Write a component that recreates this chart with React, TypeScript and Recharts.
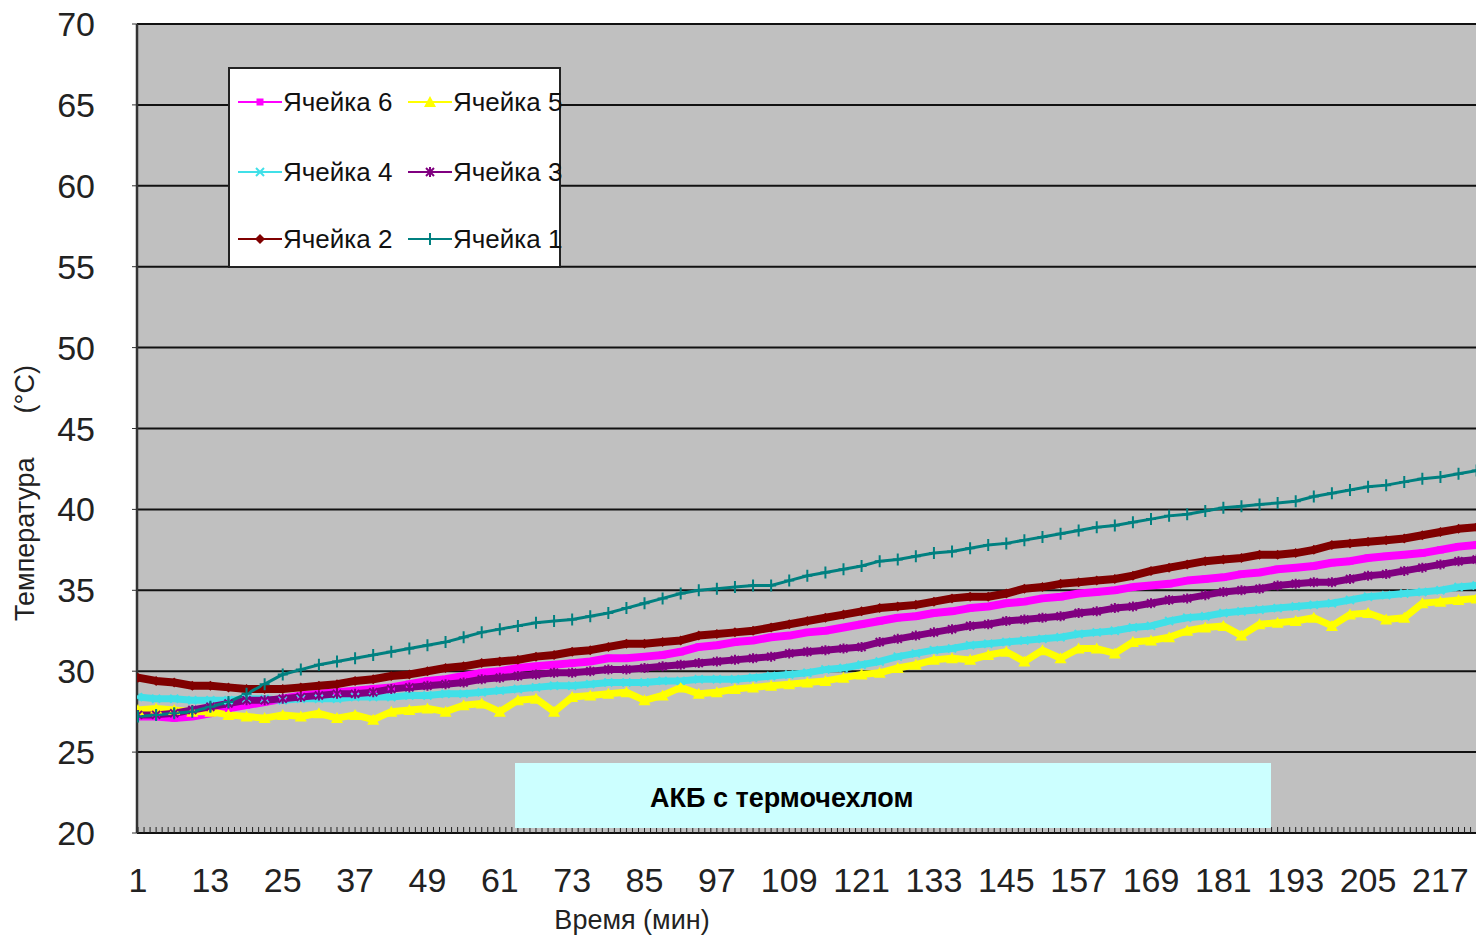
import React from "react";
import { LineChart, Line, XAxis, YAxis, CartesianGrid, Legend } from "recharts";

// minutes (every 3rd reading)
const minutes = [
  1, 4, 7, 10, 13, 16, 19, 22, 25, 28,
  31, 34, 37, 40, 43, 46, 49, 52, 55, 58,
  61, 64, 67, 70, 73, 76, 79, 82, 85, 88,
  91, 94, 97, 100, 103, 106, 109, 112, 115, 118,
  121, 124, 127, 130, 133, 136, 139, 142, 145, 148,
  151, 154, 157, 160, 163, 166, 169, 172, 175, 178,
  181, 184, 187, 190, 193, 196, 199, 202, 205, 208,
  211, 214, 217, 220, 223,
];

const cell6 = [
  27.2, 27.2, 27.1, 27.2, 27.4, 27.7, 27.9, 28.1, 28.3, 28.5,
  28.6, 28.7, 28.8, 28.9, 29.0, 29.2, 29.4, 29.5, 29.7, 29.9,
  30.0, 30.2, 30.3, 30.4, 30.5, 30.6, 30.8, 30.8, 30.9, 31.0,
  31.2, 31.5, 31.6, 31.8, 31.9, 32.1, 32.2, 32.4, 32.5, 32.7,
  32.9, 33.1, 33.3, 33.4, 33.6, 33.7, 33.9, 34.0, 34.2, 34.3,
  34.5, 34.6, 34.8, 34.9, 35.0, 35.2, 35.3, 35.4, 35.6, 35.7,
  35.8, 36.0, 36.1, 36.3, 36.4, 36.5, 36.7, 36.8, 37.0, 37.1,
  37.2, 37.3, 37.5, 37.7, 37.8,
];

const cell5 = [
  27.6, 27.7, 27.6, 27.5, 27.5, 27.3, 27.2, 27.1, 27.3, 27.2,
  27.4, 27.1, 27.3, 27.0, 27.5, 27.6, 27.7, 27.5, 27.9, 28.0,
  27.5, 28.2, 28.3, 27.5, 28.4, 28.5, 28.6, 28.7, 28.2, 28.5,
  29.0, 28.6, 28.7, 28.9, 29.0, 29.1, 29.2, 29.3, 29.4, 29.6,
  29.8, 29.9, 30.2, 30.4, 30.7, 30.8, 30.7, 31.0, 31.2, 30.6,
  31.3, 30.8, 31.4, 31.4, 31.1, 31.8, 31.9, 32.1, 32.5, 32.7,
  32.8, 32.2, 32.9, 33.0, 33.1, 33.3, 32.8, 33.5, 33.6, 33.2,
  33.3, 34.2, 34.3, 34.4, 34.5,
];

const cell4 = [
  28.4, 28.3, 28.3, 28.2, 28.2, 28.2, 28.3, 28.3, 28.2, 28.3,
  28.3, 28.3, 28.4, 28.4, 28.4, 28.5, 28.5, 28.6, 28.6, 28.7,
  28.8, 28.9, 29.0, 29.1, 29.1, 29.2, 29.3, 29.3, 29.3, 29.4,
  29.4, 29.5, 29.5, 29.5, 29.6, 29.7, 29.8, 29.9, 30.1, 30.2,
  30.4, 30.6, 30.9, 31.1, 31.3, 31.4, 31.6, 31.7, 31.8, 31.9,
  32.0, 32.1, 32.3, 32.4, 32.5, 32.7, 32.8, 33.1, 33.3, 33.4,
  33.6, 33.7, 33.8, 33.9, 34.0, 34.1, 34.2, 34.4, 34.6, 34.7,
  34.8, 34.9, 35.0, 35.2, 35.3,
];

const cell3 = [
  27.3, 27.3, 27.4, 27.6, 27.8, 28.0, 28.2, 28.2, 28.3, 28.4,
  28.5, 28.6, 28.6, 28.7, 28.9, 29.0, 29.1, 29.2, 29.3, 29.5,
  29.6, 29.7, 29.8, 29.9, 29.9, 30.0, 30.1, 30.1, 30.2, 30.3,
  30.4, 30.5, 30.6, 30.7, 30.8, 30.9, 31.1, 31.2, 31.3, 31.4,
  31.5, 31.8, 32.0, 32.2, 32.4, 32.6, 32.8, 32.9, 33.1, 33.2,
  33.3, 33.4, 33.6, 33.7, 33.9, 34.0, 34.2, 34.4, 34.5, 34.7,
  34.9, 35.0, 35.1, 35.3, 35.4, 35.5, 35.5, 35.7, 35.9, 36.0,
  36.2, 36.4, 36.6, 36.8, 36.9,
];

const cell2 = [
  29.6, 29.4, 29.3, 29.1, 29.1, 29.0, 28.9, 28.9, 28.9, 29.0,
  29.1, 29.2, 29.4, 29.5, 29.7, 29.8, 30.0, 30.2, 30.3, 30.5,
  30.6, 30.7, 30.9, 31.0, 31.2, 31.3, 31.5, 31.7, 31.7, 31.8,
  31.9, 32.2, 32.3, 32.4, 32.5, 32.7, 32.9, 33.1, 33.3, 33.5,
  33.7, 33.9, 34.0, 34.1, 34.3, 34.5, 34.6, 34.6, 34.8, 35.1,
  35.2, 35.4, 35.5, 35.6, 35.7, 35.9, 36.2, 36.4, 36.6, 36.8,
  36.9, 37.0, 37.2, 37.2, 37.3, 37.5, 37.8, 37.9, 38.0, 38.1,
  38.2, 38.4, 38.6, 38.8, 38.9,
];

const cell1 = [
  27.2, 27.3, 27.4, 27.5, 27.8, 28.1, 28.6, 29.2, 29.8, 30.1,
  30.4, 30.6, 30.8, 31.0, 31.2, 31.4, 31.6, 31.8, 32.1, 32.4,
  32.6, 32.8, 33.0, 33.1, 33.2, 33.4, 33.6, 33.9, 34.2, 34.5,
  34.8, 35.0, 35.1, 35.2, 35.3, 35.3, 35.6, 35.9, 36.1, 36.3,
  36.5, 36.8, 36.9, 37.1, 37.3, 37.4, 37.6, 37.8, 37.9, 38.1,
  38.3, 38.5, 38.7, 38.9, 39.0, 39.2, 39.4, 39.6, 39.7, 39.9,
  40.1, 40.2, 40.3, 40.4, 40.5, 40.8, 41.0, 41.2, 41.4, 41.5,
  41.7, 41.9, 42.0, 42.2, 42.4,
];

const xLabels = [1, 13, 25, 37, 49, 61, 73, 85, 97, 109, 121, 133, 145, 157, 169, 181, 193, 205, 217];
const yTicks = [20, 25, 30, 35, 40, 45, 50, 55, 60, 65, 70];
// one small tick per minute along the bottom
const minuteTicks = Array.from({ length: 222 }, (_, i) => i + 1);

const data = minutes.map((m, i) => ({
  minute: m,
  cell6: cell6[i],
  cell5: cell5[i],
  cell4: cell4[i],
  cell3: cell3[i],
  cell2: cell2[i],
  cell1: cell1[i],
}));

const series = [
  { key: "cell6", name: "Ячейка 6", color: "#ff00ff", shape: "square", width: 8 },
  { key: "cell5", name: "Ячейка 5", color: "#ffff00", shape: "triangle", width: 7 },
  { key: "cell4", name: "Ячейка 4", color: "#40e0e8", shape: "x", width: 7 },
  { key: "cell3", name: "Ячейка 3", color: "#800080", shape: "star", width: 7 },
  { key: "cell2", name: "Ячейка 2", color: "#800000", shape: "diamond", width: 8 },
  { key: "cell1", name: "Ячейка 1", color: "#008080", shape: "plus", width: 3 },
];

const FONT = "'Liberation Sans', Arial, sans-serif";

function Marker({ shape, cx, cy, color }: { shape: string; cx: number; cy: number; color: string }) {
  if (cx == null || cy == null) return null;
  switch (shape) {
    case "square":
      return <rect x={cx - 3.5} y={cy - 3.5} width={7} height={7} fill={color} />;
    case "triangle":
      return <polygon points={`${cx},${cy - 6} ${cx + 6},${cy + 5} ${cx - 6},${cy + 5}`} fill={color} />;
    case "x":
      return (
        <path
          d={`M${cx - 4},${cy - 4}L${cx + 4},${cy + 4}M${cx - 4},${cy + 4}L${cx + 4},${cy - 4}`}
          stroke={color}
          strokeWidth={2}
        />
      );
    case "star":
      return (
        <path
          d={`M${cx - 4},${cy - 4}L${cx + 4},${cy + 4}M${cx - 4},${cy + 4}L${cx + 4},${cy - 4}M${cx},${cy - 5}L${cx},${cy + 5}`}
          stroke={color}
          strokeWidth={2}
        />
      );
    case "diamond":
      return <polygon points={`${cx},${cy - 5} ${cx + 5},${cy} ${cx},${cy + 5} ${cx - 5},${cy}`} fill={color} />;
    default:
      return (
        <path
          d={`M${cx - 5},${cy}L${cx + 5},${cy}M${cx},${cy - 6}L${cx},${cy + 6}`}
          stroke={color}
          strokeWidth={2}
        />
      );
  }
}

const XTick = (props: any) => {
  const { x, y, payload } = props;
  if (!xLabels.includes(payload.value)) return <g />;
  return (
    <text x={x} y={y} dy="0.71em" textAnchor="middle" fontSize={34} fill="#222" fontFamily={FONT}>
      {payload.value}
    </text>
  );
};

const legendRows = [
  ["cell6", "cell5"],
  ["cell4", "cell3"],
  ["cell2", "cell1"],
];

function LegendBox() {
  return (
    <div
      style={{
        width: 333,
        height: 201,
        boxSizing: "border-box",
        border: "2px solid #222",
        background: "#fff",
        position: "relative",
        fontFamily: FONT,
        fontSize: 26,
        color: "#111",
      }}
    >
      {legendRows.map((row, r) =>
        row.map((key, c) => {
          const s = series.find((d) => d.key === key)!;
          return (
            <div
              key={key}
              style={{
                position: "absolute",
                left: c === 0 ? 8 : 178,
                top: [18, 88, 155][r],
                height: 30,
                display: "flex",
                alignItems: "center",
                whiteSpace: "nowrap",
              }}
            >
              <svg width={44} height={30}>
                <line x1={0} y1={15} x2={44} y2={15} stroke={s.color} strokeWidth={2} />
                <Marker shape={s.shape} cx={22} cy={15} color={s.color} />
              </svg>
              <span style={{ marginLeft: 1 }}>{s.name}</span>
            </div>
          );
        })
      )}
    </div>
  );
}

export default function App() {
  return (
    <div style={{ position: "absolute", left: 0, top: 0, width: 1476, height: 938, background: "#fff", overflow: "hidden" }}>
      <LineChart width={1476} height={938} data={data} margin={{ top: 24, right: 0, bottom: 0, left: 0 }}>
        <CartesianGrid vertical={false} stroke="#111" strokeWidth={2} fill="#c0c0c0" />
        <XAxis
          dataKey="minute"
          type="number"
          domain={[0.83, 222.9]}
          allowDataOverflow
          ticks={minuteTicks}
          interval={0}
          tickSize={-6}
          tickMargin={41}
          tick={<XTick />}
          height={105}
          axisLine={{ stroke: "#111", strokeWidth: 2 }}
          tickLine={{ stroke: "#222", strokeWidth: 1 }}
        />
        <YAxis
          type="number"
          domain={[20, 70]}
          ticks={yTicks}
          interval={0}
          width={137}
          tickSize={5}
          tickMargin={37}
          tick={{ fontSize: 34, fill: "#222", fontFamily: FONT }}
          axisLine={{ stroke: "#333", strokeWidth: 2.5 }}
          tickLine={{ stroke: "#333", strokeWidth: 1 }}
        />
        <Legend
          layout="horizontal"
          verticalAlign="middle"
          align="center"
          content={() => <LegendBox />}
          wrapperStyle={{ left: 228, top: 67, width: 333, height: 201 }}
        />
        {series.map((s) => (
          <Line
            key={s.key}
            dataKey={s.key}
            name={s.name}
            type="linear"
            stroke={s.color}
            strokeWidth={s.width}
            strokeLinejoin="round"
            isAnimationActive={false}
            dot={(p: any) => <Marker key={`${s.key}-${p.index}`} shape={s.shape} cx={p.cx} cy={p.cy} color={s.color} />}
            activeDot={false}
          />
        ))}
      </LineChart>

      <div
        style={{
          position: "absolute",
          left: 515,
          top: 763,
          width: 756,
          height: 65,
          background: "#ccffff",
        }}
      >
        <span
          style={{
            position: "absolute",
            left: 135,
            top: 20,
            fontFamily: FONT,
            fontWeight: "bold",
            fontSize: 27,
            color: "#000",
            whiteSpace: "nowrap",
          }}
        >
          АКБ с термочехлом
        </span>
      </div>

      <div
        style={{
          position: "absolute",
          left: 632,
          top: 920,
          transform: "translate(-50%, -50%)",
          fontFamily: FONT,
          fontSize: 27,
          color: "#222",
          whiteSpace: "nowrap",
        }}
      >
        Время (мин)
      </div>

      <div
        style={{
          position: "absolute",
          left: 25,
          top: 493,
          transform: "translate(-50%, -50%) rotate(-90deg)",
          fontFamily: FONT,
          fontSize: 27,
          color: "#222",
          whiteSpace: "nowrap",
        }}
      >
        Температура<span style={{ marginLeft: 44 }}>(°C)</span>
      </div>
    </div>
  );
}
